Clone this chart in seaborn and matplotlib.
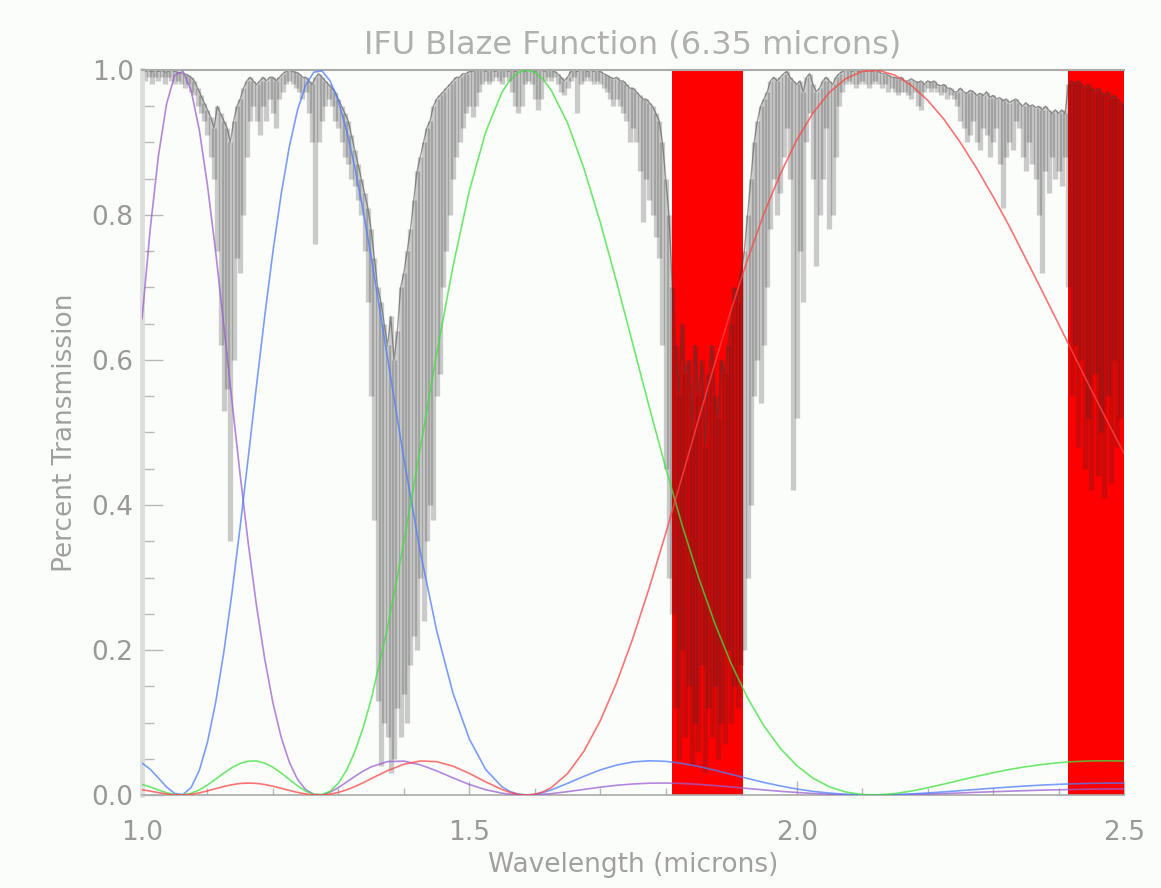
import matplotlib
matplotlib.use("Agg")
import matplotlib.pyplot as plt
from matplotlib.ticker import MultipleLocator, FormatStrFormatter
import numpy as np
import pandas as pd
import seaborn as sns

# blaze functions of the grating orders (blaze at 6.35 microns)
blaze_wl = [1.000, 1.0125, 1.025, 1.0375, 1.050, 1.0625, 1.075, 1.0875, 1.100, 1.1125,
            1.125, 1.1375, 1.150, 1.1625, 1.175, 1.1875, 1.200, 1.2125, 1.225, 1.2375,
            1.250, 1.2625, 1.275, 1.2875, 1.300, 1.3125, 1.325, 1.3375, 1.350, 1.375,
            1.400, 1.425, 1.450, 1.475, 1.500, 1.525, 1.550, 1.5625, 1.575, 1.5875,
            1.600, 1.6125, 1.625, 1.650, 1.675, 1.700, 1.725, 1.750, 1.775, 1.800,
            1.825, 1.850, 1.875, 1.900, 1.925, 1.950, 1.975, 2.000, 2.025, 2.050,
            2.075, 2.100, 2.125, 2.150, 2.175, 2.200, 2.225, 2.250, 2.275, 2.300,
            2.325, 2.350, 2.375, 2.400, 2.425, 2.450, 2.475, 2.500]

order6 = [0.6566, 0.7800, 0.8811, 0.9531, 0.9928, 0.9982, 0.9719, 0.9175, 0.8409, 0.7494,
          0.6473, 0.5430, 0.4409, 0.3457, 0.2605, 0.1873, 0.1271, 0.0800, 0.0453, 0.0216,
          0.0074, 0.0009, 0.0004, 0.0040, 0.0102, 0.0178, 0.0256, 0.0328, 0.0388, 0.0461,
          0.0467, 0.0417, 0.0333, 0.0236, 0.0145, 0.0073, 0.0025, 0.0011, 0.0003, 0.0000,
          0.0002, 0.0009, 0.0019, 0.0046, 0.0077, 0.0108, 0.0134, 0.0152, 0.0163, 0.0165,
          0.0159, 0.0147, 0.0130, 0.0111, 0.0090, 0.0070, 0.0051, 0.0035, 0.0021, 0.0011,
          0.0004, 0.0001, 0.0000, 0.0002, 0.0007, 0.0013, 0.0020, 0.0028, 0.0037, 0.0045,
          0.0053, 0.0060, 0.0067, 0.0072, 0.0077, 0.0080, 0.0082, 0.0083]

order5 = [0.0441, 0.0356, 0.0235, 0.0110, 0.0021, 0.0006, 0.0102, 0.0338, 0.0728, 0.1276,
          0.1971, 0.2791, 0.3705, 0.4673, 0.5654, 0.6608, 0.7495, 0.8283, 0.8941, 0.9446,
          0.9791, 0.9971, 0.9987, 0.9848, 0.9570, 0.9165, 0.8662, 0.8073, 0.7423, 0.6036,
          0.4641, 0.3360, 0.2270, 0.1405, 0.0772, 0.0352, 0.0111, 0.0046, 0.0011, 0.0000,
          0.0009, 0.0034, 0.0069, 0.0160, 0.0258, 0.0346, 0.0413, 0.0456, 0.0472, 0.0464,
          0.0436, 0.0394, 0.0342, 0.0285, 0.0228, 0.0173, 0.0125, 0.0083, 0.0050, 0.0026,
          0.0010, 0.0001, 0.0000, 0.0005, 0.0015, 0.0028, 0.0043, 0.0060, 0.0077, 0.0094,
          0.0110, 0.0124, 0.0137, 0.0147, 0.0155, 0.0161, 0.0164, 0.0165]

order4 = [0.0146, 0.0112, 0.0070, 0.0031, 0.0005, 0.0001, 0.0023, 0.0070, 0.0138, 0.0219,
          0.0303, 0.0378, 0.0436, 0.0467, 0.0469, 0.0439, 0.0382, 0.0304, 0.0215, 0.0127,
          0.0054, 0.0008, 0.0004, 0.0052, 0.0163, 0.0342, 0.0594, 0.0919, 0.1316, 0.2302,
          0.3486, 0.4779, 0.6079, 0.7288, 0.8334, 0.9145, 0.9696, 0.9866, 0.9967, 1.0000,
          0.9968, 0.9874, 0.9723, 0.9270, 0.8643, 0.7900, 0.7074, 0.6210, 0.5346, 0.4510,
          0.3724, 0.3005, 0.2366, 0.1811, 0.1340, 0.0953, 0.0644, 0.0406, 0.0232, 0.0113,
          0.0041, 0.0006, 0.0001, 0.0020, 0.0054, 0.0100, 0.0151, 0.0205, 0.0258, 0.0307,
          0.0352, 0.0390, 0.0421, 0.0445, 0.0461, 0.0470, 0.0472, 0.0468]

order3 = [0.0072, 0.0054, 0.0033, 0.0014, 0.0002, 0.0001, 0.0010, 0.0029, 0.0057, 0.0087,
          0.0117, 0.0142, 0.0159, 0.0165, 0.0160, 0.0145, 0.0121, 0.0093, 0.0063, 0.0036,
          0.0014, 0.0002, 0.0001, 0.0012, 0.0036, 0.0071, 0.0116, 0.0168, 0.0225, 0.0336,
          0.0424, 0.0469, 0.0460, 0.0398, 0.0298, 0.0181, 0.0076, 0.0036, 0.0009, 0.0000,
          0.0010, 0.0043, 0.0101, 0.0295, 0.0603, 0.1024, 0.1549, 0.2168, 0.2862, 0.3610,
          0.4389, 0.5178, 0.5952, 0.6697, 0.7386, 0.8019, 0.8565, 0.9032, 0.9408, 0.9691,
          0.9881, 0.9981, 0.9995, 0.9929, 0.9789, 0.9583, 0.9320, 0.9000, 0.8643, 0.8255,
          0.7842, 0.7397, 0.6950, 0.6498, 0.6042, 0.5589, 0.5146, 0.4713]

orders = ["order 6", "order 5", "order 4", "order 3"]
order_colors = ["#9b5fd2", "#4f7dff", "#3ee23e", "#ff4545"]

# atmospheric transmission, sampled every 0.005 micron from 1.0 to 2.5:
# lower and upper extent of the spectrum inside each sample
spec_lo = [
    0.99, 0.985, 0.99, 0.98, 0.99, 0.985, 0.99, 0.98, 0.99, 0.985,
    0.98, 0.985, 0.98, 0.975, 0.98, 0.97, 0.965, 0.95, 0.94, 0.93,
    0.91, 0.88, 0.85, 0.75, 0.62, 0.53, 0.56, 0.35, 0.60, 0.74,
    0.72, 0.80, 0.88, 0.93, 0.95, 0.93, 0.91, 0.95, 0.93, 0.96,
    0.94, 0.92, 0.96, 0.97, 0.98, 0.985, 0.98, 0.975, 0.97, 0.96,
    0.97, 0.94, 0.90, 0.76, 0.90, 0.93, 0.95, 0.96, 0.95, 0.93,
    0.92, 0.90, 0.88, 0.87, 0.85, 0.84, 0.82, 0.80, 0.75, 0.68,
    0.55, 0.38, 0.13, 0.04, 0.10, 0.08, 0.03, 0.05, 0.12, 0.08,
    0.14, 0.10, 0.18, 0.22, 0.20, 0.30, 0.24, 0.35, 0.40, 0.38,
    0.55, 0.58, 0.70, 0.75, 0.80, 0.85, 0.88, 0.90, 0.92, 0.94,
    0.95, 0.935, 0.95, 0.97, 0.98, 0.985, 0.98, 0.985, 0.99, 0.985,
    0.98, 0.99, 0.985, 0.97, 0.95, 0.94, 0.95, 0.98, 0.985, 0.98,
    0.96, 0.945, 0.96, 0.985, 0.99, 0.985, 0.99, 0.98, 0.97, 0.965,
    0.975, 0.985, 0.99, 0.94, 0.98, 0.985, 0.99, 0.985, 0.98, 0.985,
    0.98, 0.975, 0.97, 0.96, 0.95, 0.96, 0.95, 0.94, 0.93, 0.90,
    0.92, 0.90, 0.86, 0.79, 0.85, 0.82, 0.80, 0.77, 0.74, 0.62,
    0.45, 0.30, 0.25, 0.12, 0.05, 0.20, 0.08, 0.15, 0.04, 0.10,
    0.06, 0.18, 0.03, 0.12, 0.08, 0.15, 0.05, 0.10, 0.07, 0.20,
    0.10, 0.15, 0.12, 0.18, 0.20, 0.30, 0.40, 0.55, 0.60, 0.54,
    0.62, 0.70, 0.78, 0.85, 0.80, 0.83, 0.88, 0.92, 0.85, 0.42,
    0.52, 0.75, 0.68, 0.90, 0.94, 0.85, 0.73, 0.80, 0.85, 0.92,
    0.78, 0.80, 0.88, 0.95, 0.97, 0.98, 0.985, 0.98, 0.975, 0.98,
    0.985, 0.98, 0.975, 0.98, 0.985, 0.98, 0.975, 0.98, 0.97, 0.975,
    0.97, 0.965, 0.97, 0.97, 0.965, 0.96, 0.97, 0.95, 0.945, 0.97,
    0.975, 0.97, 0.975, 0.97, 0.965, 0.97, 0.96, 0.965, 0.96, 0.95,
    0.93, 0.92, 0.90, 0.91, 0.93, 0.90, 0.89, 0.92, 0.91, 0.88,
    0.90, 0.92, 0.87, 0.81, 0.88, 0.90, 0.89, 0.93, 0.92, 0.88,
    0.86, 0.90, 0.87, 0.85, 0.80, 0.72, 0.86, 0.83, 0.88, 0.85,
    0.86, 0.84, 0.88, 0.70, 0.55, 0.62, 0.48, 0.60, 0.45, 0.52,
    0.42, 0.58, 0.44, 0.50, 0.41, 0.55, 0.43, 0.60, 0.48, 0.52, 0.60,
]

spec_hi = [
    1.0, 0.998, 1.0, 0.997, 1.0, 0.998, 1.0, 0.997, 0.998, 1.0,
    0.998, 0.997, 0.996, 0.995, 0.993, 0.99, 0.985, 0.975, 0.965, 0.955,
    0.945, 0.935, 0.92, 0.95, 0.94, 0.93, 0.92, 0.90, 0.93, 0.95,
    0.96, 0.975, 0.985, 0.99, 0.985, 0.98, 0.985, 0.99, 0.985, 0.99,
    0.99, 0.985, 0.99, 0.995, 0.998, 1.0, 0.998, 0.997, 0.995, 0.99,
    0.99, 0.985, 0.98, 0.99, 0.995, 0.99, 0.985, 0.98, 0.975, 0.97,
    0.96, 0.95, 0.94, 0.93, 0.91, 0.89, 0.87, 0.85, 0.83, 0.81,
    0.78, 0.74, 0.70, 0.68, 0.65, 0.62, 0.66, 0.60, 0.64, 0.70,
    0.72, 0.75, 0.78, 0.82, 0.86, 0.88, 0.90, 0.92, 0.93, 0.95,
    0.96, 0.965, 0.97, 0.975, 0.98, 0.985, 0.99, 0.99, 0.995, 0.995,
    0.998, 0.998, 1.0, 1.0, 1.0, 0.998, 1.0, 1.0, 0.998, 1.0,
    1.0, 1.0, 0.998, 1.0, 0.998, 1.0, 1.0, 0.998, 1.0, 1.0,
    0.998, 1.0, 1.0, 0.998, 1.0, 1.0, 0.998, 0.995, 0.99, 0.985,
    0.99, 0.998, 1.0, 0.998, 1.0, 1.0, 0.998, 1.0, 0.998, 1.0,
    0.998, 0.995, 0.993, 0.99, 0.988, 0.99, 0.985, 0.985, 0.98, 0.975,
    0.975, 0.97, 0.965, 0.96, 0.96, 0.955, 0.95, 0.94, 0.93, 0.90,
    0.85, 0.80, 0.70, 0.62, 0.55, 0.65, 0.58, 0.60, 0.50, 0.62,
    0.55, 0.60, 0.48, 0.58, 0.62, 0.55, 0.52, 0.60, 0.58, 0.62,
    0.65, 0.70, 0.68, 0.72, 0.75, 0.80, 0.85, 0.90, 0.93, 0.95,
    0.96, 0.97, 0.985, 0.99, 0.985, 0.99, 0.995, 0.998, 0.99, 0.985,
    0.98, 0.985, 0.97, 0.99, 0.995, 0.98, 0.97, 0.975, 0.985, 0.99,
    0.985, 0.98, 0.99, 0.995, 0.998, 1.0, 1.0, 0.998, 1.0, 0.998,
    1.0, 0.998, 1.0, 0.998, 1.0, 0.998, 0.995, 0.995, 0.993, 0.99,
    0.99, 0.988, 0.99, 0.985, 0.985, 0.988, 0.985, 0.983, 0.985, 0.98,
    0.985, 0.983, 0.985, 0.98, 0.978, 0.98, 0.975, 0.975, 0.97, 0.97,
    0.975, 0.97, 0.968, 0.972, 0.97, 0.965, 0.968, 0.965, 0.97, 0.962,
    0.965, 0.96, 0.962, 0.958, 0.96, 0.955, 0.958, 0.96, 0.955, 0.95,
    0.955, 0.95, 0.952, 0.948, 0.95, 0.945, 0.95, 0.945, 0.94, 0.945,
    0.94, 0.945, 0.94, 0.98, 0.985, 0.98, 0.985, 0.98, 0.975, 0.98,
    0.975, 0.97, 0.975, 0.97, 0.965, 0.97, 0.96, 0.965, 0.96, 0.955, 0.95,
]

# opaque wavelength ranges marked in red
bad_start = [1.810, 2.414]
bad_end = [1.918, 2.500]

bg = "#fbfdfb"
text_grey = "#a0a0a0"

sns.set_theme(style="white")
plt.rcParams["font.family"] = ["DejaVu Sans"]

fig = plt.figure(figsize=(11.61, 8.88), dpi=100, facecolor=bg)
ax = fig.add_axes([142 / 1161, 1 - 795 / 888, 982 / 1161, 725 / 888])
ax.set_facecolor(bg)

for a, b in zip(bad_start, bad_end):
    ax.axvspan(a, b, color="#ff0000", lw=0, zorder=1)

spec_wl = np.linspace(1.0, 2.5, len(spec_lo))
ax.vlines(spec_wl, spec_lo, spec_hi, colors="#2a2a2a", alpha=0.24,
          linewidth=3.8, zorder=2)
ax.plot(spec_wl, spec_hi, color="#3c3c3c", lw=1.0, alpha=0.5, zorder=2.5)

blaze = pd.DataFrame({
    "wavelength": blaze_wl * 4,
    "transmission": order6 + order5 + order4 + order3,
    "order": [o for o in orders for _ in blaze_wl],
})
sns.lineplot(data=blaze, x="wavelength", y="transmission", hue="order",
             hue_order=orders, palette=dict(zip(orders, order_colors)),
             estimator=None, sort=False, legend=False, lw=1.2, alpha=0.75,
             ax=ax, zorder=3)

ax.set_xlim(1.0, 2.5)
ax.set_ylim(0.0, 1.0)
ax.xaxis.set_major_locator(MultipleLocator(0.5))
ax.xaxis.set_minor_locator(MultipleLocator(0.1))
ax.yaxis.set_major_locator(MultipleLocator(0.2))
ax.yaxis.set_minor_locator(MultipleLocator(0.05))
ax.xaxis.set_major_formatter(FormatStrFormatter("%.1f"))
ax.yaxis.set_major_formatter(FormatStrFormatter("%.1f"))

ax.tick_params(axis="both", which="both", direction="in", colors="#b8b8b8",
               labelcolor="#999999", labelsize=19, width=1)
ax.tick_params(axis="x", which="major", length=10, pad=18)
ax.tick_params(axis="x", which="minor", length=5)
ax.tick_params(axis="y", which="major", length=15, pad=6)
ax.tick_params(axis="y", which="minor", length=8.5)
ax.tick_params(top=False, right=False, bottom=True, left=True, which="both")

ax.spines["right"].set_visible(False)
ax.spines["top"].set_color("#aaaaaa")
ax.spines["top"].set_linewidth(1.5)
ax.spines["bottom"].set_color("#aaaaaa")
ax.spines["bottom"].set_linewidth(1.2)
ax.spines["left"].set_color("#dddddd")
ax.spines["left"].set_linewidth(3.5)

ax.set_title("IFU Blaze Function (6.35 microns)", fontsize=23,
             color="#b0b0b0", pad=12)
ax.set_xlabel("Wavelength (microns)", fontsize=19, color=text_grey, labelpad=4)
ax.set_ylabel("Percent Transmission", fontsize=19, color=text_grey, labelpad=10)

fig.savefig("out.png", dpi=100, facecolor=bg)
